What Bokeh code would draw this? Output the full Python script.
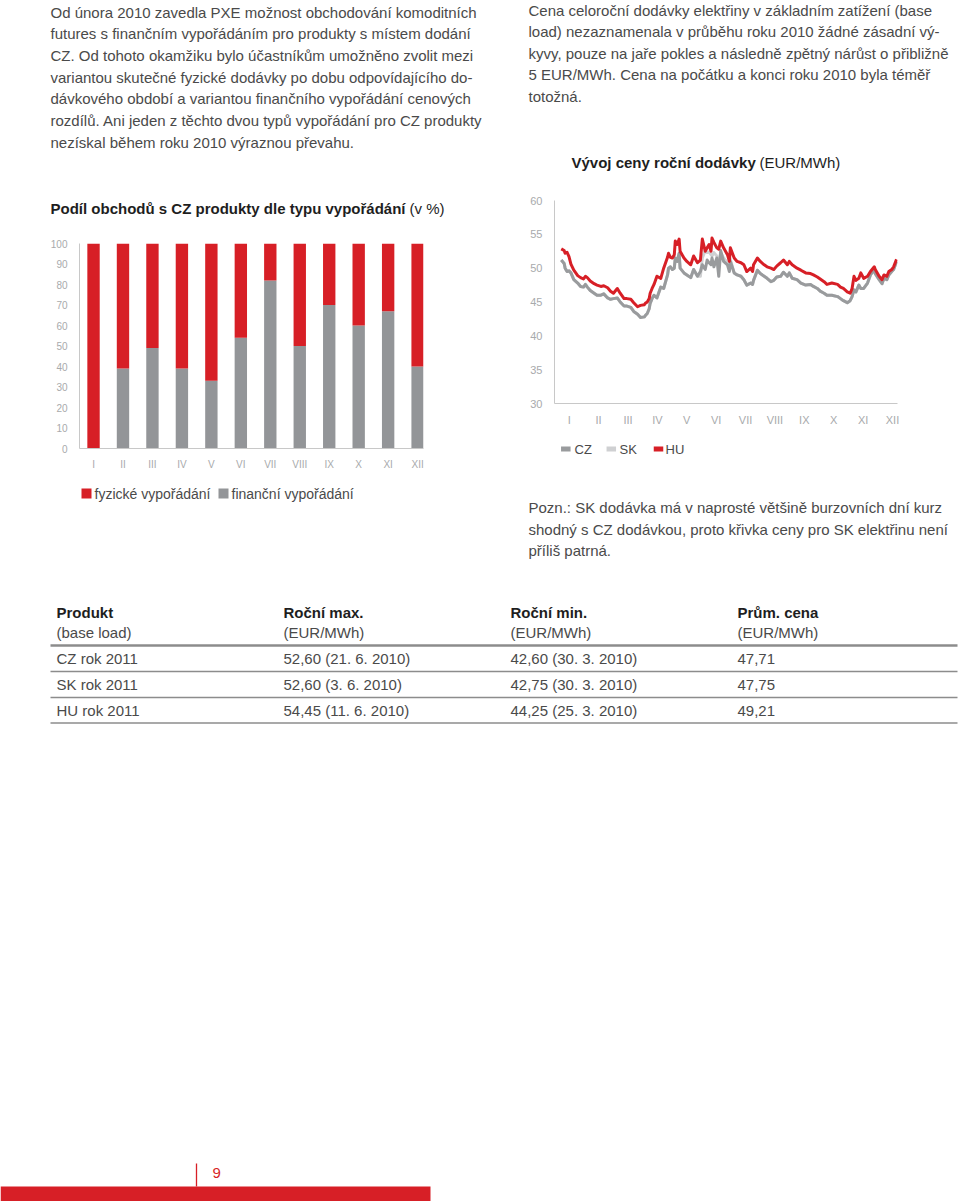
from bokeh.plotting import figure
from bokeh.layouts import column, row
from bokeh.models import ColumnDataSource, FixedTicker, Range1d
from bokeh.core.properties import value
from bokeh.embed import file_html
from bokeh.resources import INLINE

FONT = "Liberation Sans"
TXT = "#4a4a4a"
DARK = "#1e1e1e"
RED = "#d71f26"
BAR_GRAY = "#939598"
CZ_C = "#999b9d"
SK_C = "#cfd0d2"
AXIS_C = "#c8c8c8"
TICK_C = "#a8aaac"

# ---------------- data ----------------
months = ["I", "II", "III", "IV", "V", "VI", "VII", "VIII", "IX", "X", "XI", "XII"]
month_no = [1, 2, 3, 4, 5, 6, 7, 8, 9, 10, 11, 12]
financni = [0, 39, 49, 39, 33, 54, 82, 50, 70, 60, 67, 40]
fyzicke = [100, 61, 51, 61, 67, 46, 18, 50, 30, 40, 33, 60]
bar_series = ["fyzické vypořádání", "finanční vypořádání"]

days = [7, 10, 11, 13, 15, 17, 20, 24, 27, 30,
        32, 34, 37, 41, 44, 48, 51, 55, 58, 61,
        65, 68, 72, 75, 79, 82, 86, 89, 93, 94,
        96, 98, 99, 101, 103, 106, 110, 113, 117, 118,
        120, 122, 124, 125, 127, 129, 130, 134, 137, 141,
        144, 148, 151, 153, 156, 158, 160, 162, 163, 165,
        168, 170, 172, 175, 179, 181, 182, 186, 189, 193,
        196, 199, 203, 205, 206, 210, 213, 217, 220, 224,
        227, 230, 234, 237, 241, 243, 246, 251, 255, 260,
        265, 268, 272, 275, 279, 282, 287, 293, 296, 299,
        303, 306, 308, 310, 312, 315, 317, 320, 324, 327,
        331, 332, 336, 339, 341, 344, 346, 349, 351, 354]

hu = [52.85, 52.6, 52.2, 52.35, 51.7, 50.6, 49.7, 48.9, 48.6, 48.4,
      48.8, 48.6, 48.1, 47.7, 47.5, 47.3, 47.4, 47.1, 46.6, 46.3,
      47.0, 46.3, 45.5, 45.5, 45.4, 44.9, 44.3, 44.5, 44.6, 44.8,
      45.0, 45.5, 46.3, 47.0, 47.6, 48.8, 48.5, 50.0, 51.6, 52.2,
      51.6, 51.5, 52.0, 54.0, 53.5, 54.3, 52.5, 51.5, 51.0, 50.5,
      51.8, 50.8, 51.2, 54.3, 52.5, 53.0, 53.5, 52.5, 54.45, 53.8,
      53.0, 52.8, 54.0, 53.0, 52.0, 51.0, 53.0, 51.5, 51.0, 50.8,
      50.5, 49.5, 50.0, 49.5, 50.5, 51.5, 51.0, 50.5, 50.2, 50.0,
      49.8, 50.3, 50.8, 51.2, 50.5, 51.0, 50.5, 50.0, 49.7, 49.3,
      49.2, 49.0, 48.7, 48.4, 48.0, 47.6, 47.8, 47.6, 47.2, 47.0,
      46.5, 46.3, 47.0, 48.8, 48.2, 48.5, 49.3, 48.5, 48.8, 49.5,
      50.2, 49.8, 48.8, 48.3, 49.0, 48.8, 49.5, 49.8, 50.2, 51.3]

cz = [51.2, 50.7, 50.0, 49.5, 49.6, 49.3, 48.3, 47.8, 47.3, 47.2,
      47.6, 47.2, 46.7, 46.3, 46.0, 46.0, 46.2, 45.6, 45.4, 45.5,
      45.6, 45.0, 44.4, 44.4, 44.2, 43.6, 43.2, 42.7, 42.8, 43.0,
      43.3, 44.0, 44.8, 45.5, 46.0, 45.6, 47.2, 47.0, 49.0, 50.0,
      50.2, 49.8, 50.0, 51.5, 51.0, 52.2, 50.0, 49.3, 49.0, 48.6,
      49.8, 48.8, 49.5, 50.5, 49.8, 51.2, 50.8, 50.5, 51.5, 50.2,
      51.5, 48.8, 52.6, 51.0, 50.5, 49.5, 51.0, 49.3, 49.0, 48.8,
      48.3, 47.5, 47.8, 47.6, 48.2, 49.7, 49.2, 48.8, 48.5, 48.0,
      48.2, 48.7, 48.8, 49.4, 48.8, 49.3, 48.5, 48.3, 47.8, 47.5,
      47.6, 47.3, 47.0, 46.6, 46.3, 46.0, 46.0, 45.8, 45.5, 45.2,
      44.9, 45.2, 45.8, 46.8, 46.5, 47.5, 47.0, 47.0, 47.8, 49.0,
      49.8, 49.2, 48.3, 47.7, 48.5, 48.3, 49.0, 49.5, 49.8, 51.0]

sk = [51.2, 50.7, 50.0, 49.5, 49.6, 49.3, 48.3, 47.8, 47.3, 47.2,
      47.6, 47.2, 46.7, 46.3, 46.0, 46.0, 46.2, 45.6, 45.4, 45.5,
      45.6, 45.0, 44.4, 44.4, 44.2, 43.6, 43.2, 42.75, 42.8, 43.0,
      43.3, 44.0, 44.8, 45.5, 46.0, 45.6, 47.2, 47.0, 49.0, 50.0,
      50.2, 49.8, 50.0, 51.5, 51.0, 52.2, 50.0, 49.3, 49.0, 48.6,
      49.8, 48.8, 48.8, 51.5, 52.6, 52.3, 52.4, 52.0, 51.8, 52.3,
      51.8, 50.5, 52.3, 51.5, 50.8, 50.5, 51.3, 49.3, 49.0, 48.8,
      48.3, 47.5, 47.8, 47.6, 48.2, 49.7, 49.2, 48.8, 48.5, 48.0,
      48.2, 48.7, 48.8, 49.4, 48.8, 49.3, 48.5, 48.3, 47.8, 47.5,
      47.6, 47.3, 47.0, 46.6, 46.3, 46.0, 46.0, 45.8, 45.5, 45.2,
      44.9, 45.2, 45.8, 46.8, 46.5, 47.5, 47.0, 47.0, 47.8, 49.0,
      49.8, 49.2, 48.3, 47.7, 48.5, 48.3, 49.0, 49.5, 49.8, 51.0]
line_series = ["CZ", "SK", "HU"]

t_headers = ["Produkt", "Roční max.", "Roční min.", "Prům. cena"]
t_sub = ["(base load)", "(EUR/MWh)", "(EUR/MWh)", "(EUR/MWh)"]
t_products = ["CZ rok 2011", "SK rok 2011", "HU rok 2011"]
t_max = [52.60, 52.60, 54.45]
t_max_date = ["21. 6. 2010", "3. 6. 2010", "11. 6. 2010"]
t_min = [42.60, 42.75, 44.25]
t_min_date = ["30. 3. 2010", "30. 3. 2010", "25. 3. 2010"]
t_avg = [47.71, 47.75, 49.21]

left_para = [
    "Od února 2010 zavedla PXE možnost obchodování komoditních",
    "futures s finančním vypořádáním pro produkty s místem dodání",
    "CZ. Od tohoto okamžiku bylo účastníkům umožněno zvolit mezi",
    "variantou skutečné fyzické dodávky po dobu odpovídajícího do-",
    "dávkového období a variantou finančního vypořádání cenových",
    "rozdílů. Ani jeden z těchto dvou typů vypořádání pro CZ produkty",
    "nezískal během roku 2010 výraznou převahu.",
]
right_para = [
    "Cena celoroční dodávky elektřiny v základním zatížení (base",
    "load) nezaznamenala v průběhu roku 2010 žádné zásadní vý-",
    "kyvy, pouze na jaře pokles a následně zpětný nárůst o přibližně",
    "5 EUR/MWh. Cena na počátku a konci roku 2010 byla téměř",
    "totožná.",
]
note_para = [
    "Pozn.: SK dodávka má v naprosté většině burzovních dní kurz",
    "shodný s CZ dodávkou, proto křivka ceny pro SK elektřinu není",
    "příliš patrná.",
]


def fmt(v):
    return f"{v:.2f}".replace(".", ",")


def blank(w, h, x0, x1, y0, y1, bl=0, br=0):
    # page-pixel coordinates: x from x0..x1 across the frame, y from y0 (top) to y1 (bottom)
    p = figure(width=w, height=h, x_range=Range1d(x0, x1), y_range=Range1d(y1, y0),
               x_axis_location=None, y_axis_location=None, output_backend="svg",
               toolbar_location=None, min_border=0, min_border_left=bl,
               min_border_right=br, outline_line_color=None)
    p.grid.visible = False
    return p


def add_text(p, xs, ys, texts, size="15px", color=TXT, style="normal", align="left"):
    p.text(x=xs, y=ys, text=texts, text_font=value(FONT), text_font_size=size,
           text_color=color, text_font_style=style, text_align=align,
           text_baseline="middle")


def style_axes(p, size):
    for ax in p.axis:
        ax.axis_line_color = AXIS_C
        ax.axis_line_width = 1
        ax.major_tick_line_color = None
        ax.minor_tick_line_color = None
        ax.major_label_text_color = TICK_C
        ax.major_label_text_font = FONT
        ax.major_label_text_font_size = size
        ax.major_label_standoff = 6
    p.grid.visible = False
    p.outline_line_color = None


# ---------------- left top text (page x 0..500, y 0..225) ----------------
tl = blank(500, 225, 0, 500, 0, 225)
add_text(tl, [50] * len(left_para), [11.5 + 21.67 * i for i in range(len(left_para))], left_para)
add_text(tl, [50], [208], ["Podíl obchodů s CZ produkty dle typu vypořádání"], color=DARK, style="bold")
add_text(tl, [409], [208], ["(v %)"], color=DARK)

# ---------------- bar chart (page y 225..475) ----------------
bsrc = ColumnDataSource(dict(x=month_no, fin=financni, fyz=fyzicke))
pb = figure(width=500, height=250, x_range=Range1d(0.524, 12.2), y_range=Range1d(0, 100),
            output_backend="svg", toolbar_location=None,
            min_border_left=79, min_border_right=77, min_border_top=18, min_border_bottom=27)
rs = pb.vbar_stack(["fin", "fyz"], x="x", width=0.42, fill_color=[BAR_GRAY, RED],
                   line_color=None, source=bsrc)
pb.xaxis.ticker = FixedTicker(ticks=month_no)
pb.xaxis.major_label_overrides = {m: lab for m, lab in zip(month_no, months)}
pb.yaxis.ticker = FixedTicker(ticks=list(range(0, 101, 10)))
style_axes(pb, "10px")
pb.xaxis.major_label_standoff = 4

# bar legend (page y 475..575)
lb = blank(500, 100, 79, 423, 475, 575, bl=79, br=77)
lb.rect(x=[86, 223], y=[493, 493], width=10, height=10, fill_color=[RED, BAR_GRAY], line_color=None)
add_text(lb, [94, 231], [493, 493], bar_series, size="14px")

# ---------------- right top text (page x 500..960, y 0..185) ----------------
tr = blank(460, 185, 500, 960, 0, 185)
add_text(tr, [528] * len(right_para), [9.5 + 21.6 * i for i in range(len(right_para))], right_para)
add_text(tr, [571], [162], ["Vývoj ceny roční dodávky"], color=DARK, style="bold")
add_text(tr, [759], [162], ["(EUR/MWh)"], color=DARK)

# ---------------- line chart (page y 185..430) ----------------
lsrc = ColumnDataSource(dict(d=days, cz=cz, sk=sk, hu=hu))
pl = figure(width=460, height=245, x_range=Range1d(0, 355), y_range=Range1d(30, 60),
            output_backend="svg", toolbar_location=None,
            min_border_left=54, min_border_right=63, min_border_top=15, min_border_bottom=27)
pl.line("d", "sk", source=lsrc, line_color=SK_C, line_width=3, line_join="round")
pl.line("d", "cz", source=lsrc, line_color=CZ_C, line_width=3, line_join="round")
pl.line("d", "hu", source=lsrc, line_color=RED, line_width=3, line_join="round")
month_mid = [(i + 0.5) * 365 / 12 for i in range(12)]
pl.xaxis.ticker = FixedTicker(ticks=month_mid)
pl.xaxis.major_label_overrides = {m: lab for m, lab in zip(month_mid, months)}
pl.yaxis.ticker = FixedTicker(ticks=[30, 35, 40, 45, 50, 55, 60])
style_axes(pl, "11px")
pl.xaxis.major_label_standoff = 4

# line legend (page y 430..470)
ll = blank(460, 40, 554, 897, 430, 470, bl=54, br=63)
ll.rect(x=[565.3, 610.8, 658], y=[448.5] * 3, width=9.5, height=5,
        fill_color=[CZ_C, SK_C, RED], line_color=None)
add_text(ll, [574, 619, 665], [448.5] * 3, line_series, size="13px")

# note (page y 470..575)
tn = blank(460, 105, 500, 960, 470, 575)
add_text(tn, [528] * len(note_para), [507 + 21.5 * i for i in range(len(note_para))], note_para)

# ---------------- table (page y 575..735) ----------------
tt = blank(960, 160, 0, 960, 575, 735)
col_x = [56, 283, 510, 737]
add_text(tt, col_x, [612] * 4, t_headers, color=DARK, style="bold")
add_text(tt, col_x, [632] * 4, t_sub)
row_y = [658, 684, 710]
add_text(tt, [col_x[0]] * 3, row_y, t_products)
add_text(tt, [col_x[1]] * 3, row_y, [f"{fmt(v)} ({d})" for v, d in zip(t_max, t_max_date)])
add_text(tt, [col_x[2]] * 3, row_y, [f"{fmt(v)} ({d})" for v, d in zip(t_min, t_min_date)])
add_text(tt, [col_x[3]] * 3, row_y, [fmt(v) for v in t_avg])
tt.segment(x0=[50], y0=[645], x1=[957], y1=[645], line_color="#8c8c8c", line_width=2.5)
tt.segment(x0=[50] * 3, y0=[671, 697, 722.5], x1=[957] * 3, y1=[671, 697, 722.5],
           line_color="#8c8c8c", line_width=1.3)

# ---------------- footer (page y 735..1201) ----------------
tf = blank(960, 466, 0, 960, 735, 1201)
tf.quad(left=[0], right=[430], top=[1186], bottom=[1201], fill_color=RED, line_color=None)
tf.segment(x0=[196], y0=[1163], x1=[196], y1=[1186], line_color=RED, line_width=1.3)
add_text(tf, [212], [1172], ["9"], color=RED, size="15px")

left_col = column(row(tl), row(pb), row(lb))
right_col = column(row(tr), row(pl), row(ll), row(tn))
layout = column(row(left_col, right_col), row(tt), row(tf))

open("out.html", "w").write(file_html(layout, INLINE))
